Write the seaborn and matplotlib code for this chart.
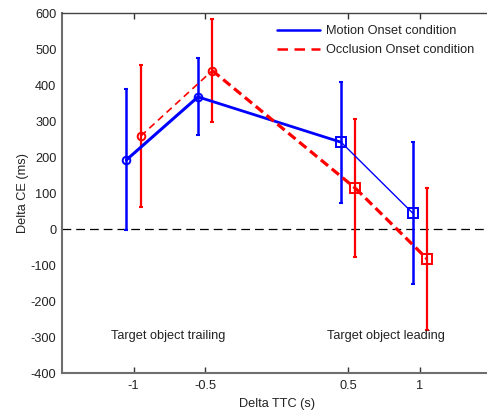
import matplotlib
matplotlib.use("Agg")
import matplotlib.pyplot as plt
from matplotlib.lines import Line2D
import seaborn as sns
import pandas as pd

# Delta TTC levels and per-condition horizontal offsets
ttc = [-1.0, -0.5, 0.5, 1.0]
motion_x = [-1.05, -0.55, 0.45, 0.95]
occlusion_x = [-0.95, -0.45, 0.55, 1.05]

# Delta CE means and error bar half-widths (ms)
motion_ce = [192, 367, 241, 44]
motion_err = [196, 107, 168, 197]
occlusion_ce = [258, 440, 113, -83]
occlusion_err = [197, 143, 192, 198]

markers = ["o", "o", "s", "s"]

# Line widths of each connecting segment
motion_seg_lw = [2.2, 2.0, 1.0]
occlusion_seg_lw = [1.2, 2.3, 2.3]

sns.set_style("white")
plt.rcParams["font.family"] = ["Liberation Sans", "DejaVu Sans"]

FS = 9.2
blue = "#0000ff"
red = "#ff0000"
spine_col = "#6e6e6e"
text_col = "#222222"

fig = plt.figure(figsize=(4.87, 4.12), dpi=100)
ax = fig.add_axes([62 / 487, 39 / 412, 429.5 / 487, 360 / 412])

df_m = pd.DataFrame({"x": motion_x, "y": motion_ce, "err": motion_err, "m": markers})
df_o = pd.DataFrame({"x": occlusion_x, "y": occlusion_ce, "err": occlusion_err, "m": markers})

# zero reference line
ax.axhline(0, color="black", lw=0.9, ls=(0, (7, 4)), zorder=1)

# error bars
ax.errorbar(df_m["x"], df_m["y"], yerr=df_m["err"], fmt="none", ecolor=blue,
            elinewidth=1.8, capsize=1.5, capthick=1.5, zorder=2)
ax.errorbar(df_o["x"], df_o["y"], yerr=df_o["err"], fmt="none", ecolor=red,
            elinewidth=1.6, capsize=1.5, capthick=1.5, zorder=2)

# connecting line segments
for i in range(3):
    seg = df_m.iloc[i:i + 2]
    sns.lineplot(data=seg, x="x", y="y", color=blue, lw=motion_seg_lw[i],
                 ax=ax, legend=False, zorder=3, sort=False)
    seg = df_o.iloc[i:i + 2]
    dash = (0, (4.2, 2.8)) if occlusion_seg_lw[i] < 2 else (0, (2.9, 1.5))
    sns.lineplot(data=seg, x="x", y="y", color=red, lw=occlusion_seg_lw[i],
                 ax=ax, legend=False, zorder=3, sort=False,
                 dashes=False, linestyle=dash)

# open markers
for df, col in ((df_m, blue), (df_o, red)):
    for mk in ("o", "s"):
        sub = df[df["m"] == mk]
        ax.plot(sub["x"], sub["y"], ls="none", marker=mk, ms=5.5 if mk == "o" else 6.5,
                mfc="none", mec=col, mew=1.4, zorder=4)

ax.set_xlim(-1.5, 1.5)
ax.set_ylim(-400, 600)
ax.set_xticks(ttc)
ax.set_xticklabels(["-1", "-0.5", "0.5", "1"])
ax.set_yticks(range(-400, 601, 100))
ax.set_yticklabels([str(v) for v in range(-400, 601, 100)])

ax.tick_params(axis="x", direction="in", length=4, width=1, color="#333333",
               labelsize=FS, pad=5, top=True, bottom=True, labelcolor=text_col)
ax.tick_params(axis="y", length=0, labelsize=FS, pad=4, labelcolor=text_col)

for side in ("left", "bottom", "top", "right"):
    ax.spines[side].set_visible(True)
    ax.spines[side].set_color(spine_col)
    ax.spines[side].set_linewidth(1.5)
ax.spines["top"].set_linewidth(1.0)
ax.spines["top"].set_color("#444444")

ax.set_xlabel("Delta TTC (s)", fontsize=FS, color=text_col, labelpad=4)
ax.set_ylabel("Delta CE (ms)", fontsize=FS, color=text_col, labelpad=1)

ax.text(-0.755, -298, "Target object trailing", ha="center", va="center",
        fontsize=FS, color=text_col)
ax.text(0.765, -298, "Target object leading", ha="center", va="center",
        fontsize=FS, color=text_col)

handles = [Line2D([0], [0], color=blue, lw=1.8),
           Line2D([0], [0], color=red, lw=1.8, ls=(0, (4.2, 2.6)))]
fig.legend(handles, ["Motion Onset condition", "Occlusion Onset condition"],
           loc="upper left", bbox_to_anchor=(277 / 487, 1 - 25 / 412),
           frameon=False, fontsize=FS, handlelength=3.4, handletextpad=0.45,
           labelspacing=0.55, labelcolor=text_col, borderaxespad=0, borderpad=0)

fig.savefig("out.png", dpi=100)
